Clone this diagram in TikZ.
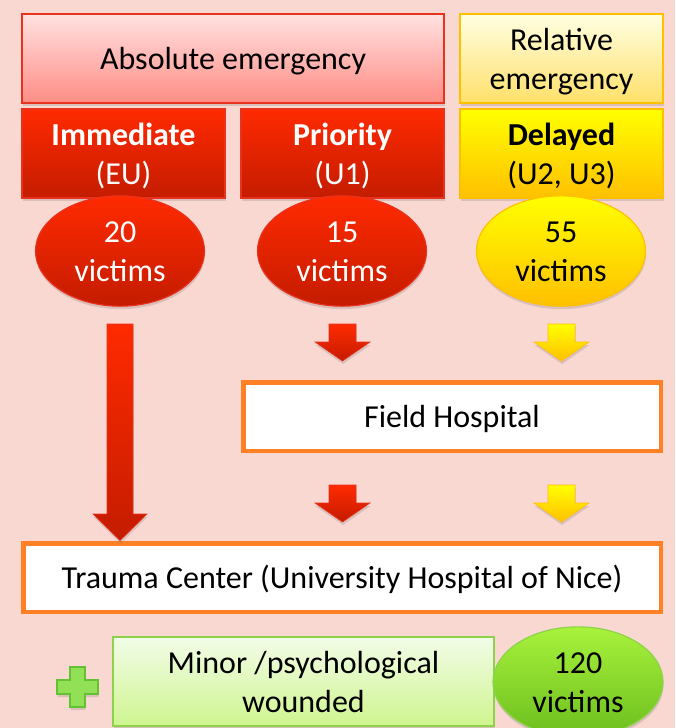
\documentclass[tikz,border=0pt]{standalone}
\usepackage{fontspec}
\setmainfont{Carlito}
\usetikzlibrary{shapes.geometric,shadows,calc}
\newcommand\shiftedtext[1]{\raisebox{-3.5pt}[\height][\depth]{\begin{tabular}{@{}c@{}}#1\end{tabular}}}
\definecolor{bgpink}{HTML}{FAD8D2}
\definecolor{redtop}{HTML}{FF2A00}
\definecolor{redbot}{HTML}{C41C00}
\definecolor{redline}{HTML}{E8321E}
\definecolor{pinktop}{HTML}{FFE2E0}
\definecolor{pinkbot}{HTML}{FF8C86}
\definecolor{paletop}{HTML}{FFFFE2}
\definecolor{palebot}{HTML}{FFE06A}
\definecolor{yeltop}{HTML}{FFFF00}
\definecolor{yelbot}{HTML}{FFC000}
\definecolor{yelline}{HTML}{FFC000}
\definecolor{orangeline}{HTML}{FF8025}
\definecolor{grntop}{HTML}{F2FCE8}
\definecolor{grnbot}{HTML}{CFF58F}
\definecolor{grnline}{HTML}{8CD24A}
\definecolor{lgtop}{HTML}{A8F23C}
\definecolor{lgbot}{HTML}{6CBE1E}
\definecolor{plusfill}{HTML}{92E056}
\definecolor{plusline}{HTML}{62C232}
\tikzset{
  txt/.style={font=\fontsize{32}{39}\selectfont, inner sep=0pt},
  shad/.style={drop shadow={shadow xshift=0.5pt, shadow yshift=-3pt, opacity=0.18, fill=black!70}},
  redbox/.style={txt, shad, draw=redline, line width=1.2pt, top color=redtop, bottom color=redbot, text=white},
  pinkbox/.style={txt, shad, draw=redline, line width=1.2pt, top color=pinktop, bottom color=pinkbot},
  palebox/.style={txt, shad, draw=yelline, line width=1.2pt, top color=paletop, bottom color=palebot},
  yelbox/.style={txt, shad, draw=yelline, line width=1.2pt, top color=yeltop, bottom color=yelbot},
  redell/.style={txt, shad, ellipse, draw=redline, line width=1.2pt, top color=redtop, bottom color=redbot, text=white, minimum width=169pt, minimum height=104pt},
  yelell/.style={txt, shad, ellipse, draw=yelline, line width=1.2pt, top color=yeltop, bottom color=yelbot, minimum width=169pt, minimum height=104pt},
  grnell/.style={txt, shad, ellipse, draw=grnline, line width=1.2pt, top color=lgtop, bottom color=lgbot, minimum width=170pt, minimum height=108pt},
  grnbox/.style={txt, shad, draw=grnline, line width=1.2pt, top color=grntop, bottom color=grnbot},
  whitebox/.style={txt, draw=orangeline, line width=4.5pt, fill=white},
  redarrow/.style={shad, draw=redline, line width=0.6pt, top color=redtop, bottom color=redbot},
  yelarrow/.style={shad, draw=yelline, line width=0.6pt, top color=yeltop, bottom color=yelbot},
}
\begin{document}
\begin{tikzpicture}[x=1pt,y=-1pt]
\useasboundingbox (0,0) rectangle (675,728);
\fill[bgpink] (0,0) rectangle (675,728);

% top row
\node[pinkbox, minimum width=422pt, minimum height=89pt] (abs) at (233,58.5) {\shiftedtext{Absolute emergency}};
\node[palebox, minimum width=203pt, minimum height=89pt] (rel) at (561.5,58.5) {\shiftedtext{Relative\\emergency}};

% second row
\node[redbox, minimum width=203pt, minimum height=89pt] (imm) at (123.5,153.5) {\shiftedtext{\textbf{Immediate}\\(EU)}};
\node[redbox, minimum width=203pt, minimum height=89pt] (pri) at (342.5,153.5) {\shiftedtext{\textbf{Priority}\\(U1)}};
\node[yelbox, minimum width=203pt, minimum height=89pt] (del) at (561.5,153.5) {\shiftedtext{\textbf{Delayed}\\(U2, U3)}};

% ellipses
\node[redell] (e20) at (120,251) {\shiftedtext{20\\victims}};
\node[redell] (e15) at (342,251) {\shiftedtext{15\\victims}};
\node[yelell] (e55) at (561,251) {\shiftedtext{55\\victims}};

% field hospital and trauma center
\node[whitebox, minimum width=417.5pt, minimum height=68.5pt] (field) at (452,416.5) {\shiftedtext{Field Hospital}};
\node[whitebox, minimum width=637.5pt, minimum height=68.5pt] (trauma) at (342,577.5) {\shiftedtext{Trauma Center (University Hospital of Nice)}};

% minor wounded
\node[grnbox, minimum width=381pt, minimum height=89pt] (minor) at (303.5,681.5) {\shiftedtext{Minor /psychological\\wounded}};
\node[grnell] (e120) at (578,682) {\shiftedtext{120\\victims}};

% plus sign
\coordinate (plus) at (77.5,687);
\path[shad, draw=plusline, line width=1.2pt, fill=plusfill]
  ($(plus)+(-7.5,-20)$) -- ++(15,0) -- ++(0,13) -- ++(13,0) -- ++(0,14) -- ++(-13,0) -- ++(0,13)
  -- ++(-15,0) -- ++(0,-13) -- ++(-13,0) -- ++(0,-14) -- ++(13,0) -- cycle;

% long arrow: immediate -> trauma
\coordinate (a0) at (e20.center |- 0,324);
\coordinate (a0tip) at (e20.center |- trauma.north);
\path[redarrow] ($(a0)+(-13,0)$) -- ($(a0)+(13,0)$) -- ($(a0tip)+(13,-27)$) -- ($(a0tip)+(27,-27)$)
  -- ($(a0tip)+(0,-0.5)$) -- ($(a0tip)+(-27,-27)$) -- ($(a0tip)+(-13,-27)$) -- cycle;

% small arrows: ellipses -> field hospital, field hospital -> trauma center
\coordinate (a1) at (pri.center |- 0,324);
\coordinate (a2) at (del.center |- 0,324);
\coordinate (a3) at (pri.center |- 0,485);
\coordinate (a4) at (del.center |- 0,485);
\foreach \an/\st in {a1/redarrow, a2/yelarrow, a3/redarrow, a4/yelarrow}{
  \path[\st] ($(\an)+(-13.5,0)$) -- ($(\an)+(13.5,0)$) -- ($(\an)+(13.5,18)$) -- ($(\an)+(27.5,18)$)
    -- ($(\an)+(0,37)$) -- ($(\an)+(-27.5,18)$) -- ($(\an)+(-13.5,18)$) -- cycle;
}
\end{tikzpicture}
\end{document}
